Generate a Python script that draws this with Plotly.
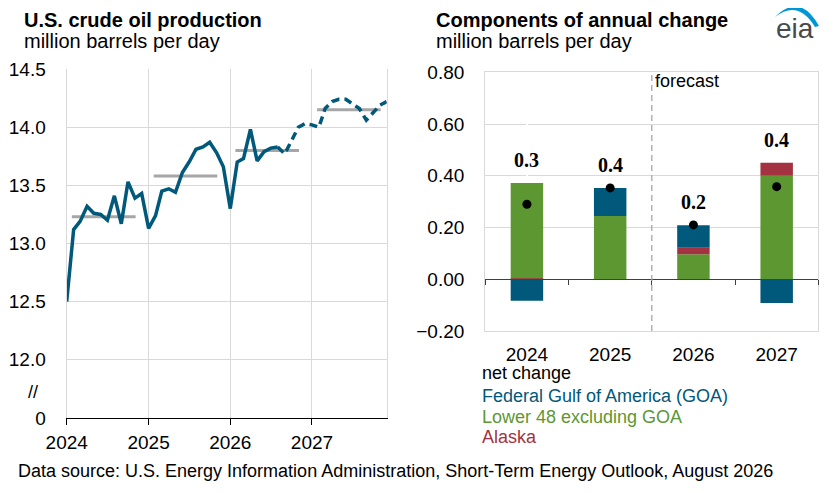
import pandas as pd
import plotly.graph_objects as go

W, H = 835, 493
OFF = 8  # page body margin in the browser
FONT = "Liberation Sans, Arial, sans-serif"

# --- left panel: monthly U.S. crude oil production (million b/d) ---
months = pd.date_range("2024-01-01", "2027-12-01", freq="MS")
production = [
    12.50, 13.12, 13.19, 13.32, 13.26, 13.25, 13.20, 13.41, 13.17, 13.53, 13.39, 13.43,
    13.13, 13.24, 13.45, 13.47, 13.44, 13.61, 13.70, 13.81, 13.83, 13.87, 13.78, 13.66,
    13.30, 13.70, 13.73, 13.98, 13.71, 13.79, 13.82, 13.83, 13.77, 13.88, 14.00, 14.03,
    14.02, 14.00, 14.16, 14.22, 14.24, 14.24, 14.20, 14.16, 14.06, 14.12, 14.19, 14.22,
]
last_history = 31  # index of last historical month
avg_years = [2024, 2025, 2026, 2027]
annual_avg = [13.23, 13.58, 13.80, 14.15]
left_ticks = [11.5, 12.0, 12.5, 13.0, 13.5, 14.0, 14.5]
left_ticktext = ["0", "12.0", "12.5", "13.0", "13.5", "14.0", "14.5"]

# --- right panel: components of annual change (million b/d) ---
change_years = ["2024", "2025", "2026", "2027"]
lower48 = [0.372, 0.245, 0.097, 0.400]
alaska = [-0.003, 0.000, 0.025, 0.050]
federal_goa = [-0.080, 0.108, 0.087, -0.092]
net_change = [0.290, 0.353, 0.210, 0.358]
right_ticks = [-0.2, 0.0, 0.2, 0.4, 0.6, 0.8]

LINE_BLUE = "#00587a"
GOA_BLUE = "#00587a"
L48_GREEN = "#5d9732"
AK_RED = "#a33340"
GRID = "#d9d9d9"


def px(x, y):
    # screen pixel -> paper fraction
    return (x - OFF) / W, 1 - (y - OFF) / H


# plot domains (paper)
L_X = [px(66.7, 0)[0], px(386.7, 0)[0]]
L_Y = [px(0, 418)[1], px(0, 69)[1]]
R_X = [px(485.3, 0)[0], px(818.3, 0)[0]]
R_Y = [px(0, 331)[1], px(0, 72.3)[1]]
R_RANGE = [-0.2, 0.8]

fig = go.Figure()

# annual averages
for yr, avg in zip(avg_years, annual_avg):
    fig.add_trace(go.Scatter(
        x=[pd.Timestamp(yr, 1, 24), pd.Timestamp(yr, 11, 4)], y=[avg, avg],
        mode="lines", line=dict(color="#a6a6a6", width=3),
        xaxis="x", yaxis="y", showlegend=False, hoverinfo="skip",
    ))

fig.add_trace(go.Scatter(
    x=months[: last_history + 1], y=production[: last_history + 1],
    mode="lines", line=dict(color=LINE_BLUE, width=3.5),
    xaxis="x", yaxis="y", showlegend=False,
))
fig.add_trace(go.Scatter(
    x=months[last_history:], y=production[last_history:],
    mode="lines", line=dict(color=LINE_BLUE, width=3.5, dash="8px,5px"),
    xaxis="x", yaxis="y", showlegend=False,
))

# stacked components
xs = list(range(len(change_years)))
for vals, col, name in [
    (lower48, L48_GREEN, "Lower 48 excluding GOA"),
    (alaska, AK_RED, "Alaska"),
    (federal_goa, GOA_BLUE, "Federal Gulf of America (GOA)"),
]:
    fig.add_trace(go.Bar(
        x=xs, y=vals, name=name, marker=dict(color=col, line=dict(width=0)),
        width=0.39, xaxis="x2", yaxis="y2", showlegend=False,
    ))

fig.add_trace(go.Scatter(
    x=xs, y=net_change, mode="markers",
    marker=dict(color="black", size=9, symbol="circle"),
    xaxis="x2", yaxis="y2", showlegend=False,
))

# zero line with boundary ticks on the right panel
fig.add_trace(go.Scatter(x=[None], y=[None], xaxis="x3", yaxis="y2",
                         showlegend=False, hoverinfo="skip"))

# net change labels above the positive stack
for i, v in enumerate(net_change):
    top = sum(c for c in (lower48[i], alaska[i], federal_goa[i]) if c > 0)
    fig.add_annotation(
        x=i, y=top, xref="x2", yref="y2", text=f"<b>{v:.1f}</b>",
        showarrow=False, xanchor="center", yanchor="middle", yshift=23,
        font=dict(family="Liberation Serif, Times New Roman, serif", size=20, color="black"),
    )

# forecast divider
fig.add_shape(type="line", x0=1.5, x1=1.5, y0=R_RANGE[0], y1=R_RANGE[1],
              xref="x2", yref="y2", line=dict(color="#a6a6a6", width=1.3, dash="6px,4px"))
fig.add_annotation(x=1.5, y=0.767, xref="x2", yref="y2", text="forecast",
                   showarrow=False, xanchor="left", yanchor="middle", xshift=1,
                   font=dict(family=FONT, size=18, color="black"))

zero_pos = R_Y[0] + (0 - R_RANGE[0]) / (R_RANGE[1] - R_RANGE[0]) * (R_Y[1] - R_Y[0])

fig.update_layout(
    width=W, height=H,
    margin=dict(l=0, r=0, t=0, b=0, autoexpand=False),
    paper_bgcolor="white", plot_bgcolor="white",
    barmode="relative",
    font=dict(family=FONT, size=19, color="black"),
    xaxis=dict(
        domain=L_X, anchor="y", type="date", automargin=False,
        range=[months[0], months[-1]],
        tickvals=[pd.Timestamp(y, 1, 1) for y in avg_years],
        ticktext=[str(y) for y in avg_years],
        showgrid=True, gridcolor=GRID, gridwidth=1.3,
        showline=True, linecolor="black", linewidth=1.3,
        ticks="outside", ticklen=6, tickcolor="black",
        tickfont=dict(size=19), ticklabelstandoff=1,
    ),
    yaxis=dict(
        domain=L_Y, anchor="x", range=[11.5, 14.5], automargin=False,
        tickvals=left_ticks, ticktext=left_ticktext,
        showgrid=True, gridcolor=GRID, gridwidth=1.3,
        showline=True, linecolor=GRID, linewidth=1.3, mirror=True,
        ticks="", tickfont=dict(size=19), ticklabelstandoff=16,
        zeroline=False,
    ),
    xaxis2=dict(
        domain=R_X, anchor="y2", range=[-0.5, 3.5], automargin=False,
        tickvals=xs, ticktext=change_years,
        showgrid=False, showline=True, linecolor=GRID, linewidth=1.3, mirror=True,
        ticks="", tickfont=dict(size=19), ticklabelstandoff=6,
    ),
    xaxis3=dict(
        domain=R_X, anchor="free", position=zero_pos, overlaying="x2",
        range=[-0.5, 3.5], tickvals=[-0.5, 0.5, 1.5, 2.5, 3.5], automargin=False,
        showticklabels=False, showgrid=False,
        showline=True, linecolor="#404040", linewidth=1.3,
        ticks="outside", ticklen=5, tickcolor="#404040",
    ),
    yaxis2=dict(
        domain=R_Y, anchor="x2", range=R_RANGE, automargin=False,
        tickvals=right_ticks, tickformat=".2f",
        showgrid=True, gridcolor=GRID, gridwidth=1.3,
        showline=True, linecolor=GRID, linewidth=1.3, mirror=True,
        zeroline=False, ticks="", tickfont=dict(size=19), ticklabelstandoff=16,
    ),
)

# titles
for x0, title in [(22, "U.S. crude oil production"), (434, "Components of annual change")]:
    xp, yp = px(x0, 19.5)
    fig.add_annotation(x=xp, y=yp, xref="paper", yref="paper", text=f"<b>{title}</b>",
                       showarrow=False, xanchor="left", yanchor="middle",
                       font=dict(family=FONT, size=20, color="black"))
    xp, yp = px(x0, 41.5)
    fig.add_annotation(x=xp, y=yp, xref="paper", yref="paper", text="million barrels per day",
                       showarrow=False, xanchor="left", yanchor="middle",
                       font=dict(family=FONT, size=20, color="black"))

# axis break mark
xp, yp = px(33, 392)
fig.add_annotation(x=xp, y=yp, xref="paper", yref="paper", text="//", showarrow=False,
                   xanchor="center", yanchor="middle",
                   font=dict(family=FONT, size=18, color="black"))

# legend as coloured text
for ypix, txt, col in [
    (373, "net change", "black"),
    (395.5, "Federal Gulf of America (GOA)", GOA_BLUE),
    (416.5, "Lower 48 excluding GOA", L48_GREEN),
    (436.5, "Alaska", AK_RED),
]:
    xp, yp = px(480, ypix)
    fig.add_annotation(x=xp, y=yp, xref="paper", yref="paper", text=txt, showarrow=False,
                       xanchor="left", yanchor="middle",
                       font=dict(family=FONT, size=18, color=col))

xp, yp = px(16, 471)
fig.add_annotation(
    x=xp, y=yp, xref="paper", yref="paper", showarrow=False, xanchor="left", yanchor="middle",
    text="Data source: U.S. Energy Information Administration, Short-Term Energy Outlook, August 2026",
    font=dict(family=FONT, size=18, color="black"),
)

# eia logo
xp, yp = px(794.5, 28)
fig.add_annotation(x=xp, y=yp, xref="paper", yref="paper", text="eia", showarrow=False,
                   xanchor="center", yanchor="middle",
                   font=dict(family=FONT, size=28, color="#4a4a4a"))
pts = [px(775, 17), px(800, -8), px(819, 26), px(815, 27), px(798, -1)]
fig.add_shape(
    type="path", xref="paper", yref="paper",
    path=(f"M {pts[0][0]},{pts[0][1]} Q {pts[1][0]},{pts[1][1]} {pts[2][0]},{pts[2][1]} "
          f"L {pts[3][0]},{pts[3][1]} Q {pts[4][0]},{pts[4][1]} {pts[0][0]},{pts[0][1]} Z"),
    fillcolor="#0096d6", line=dict(width=0),
)

fig.write_html("out.html")
